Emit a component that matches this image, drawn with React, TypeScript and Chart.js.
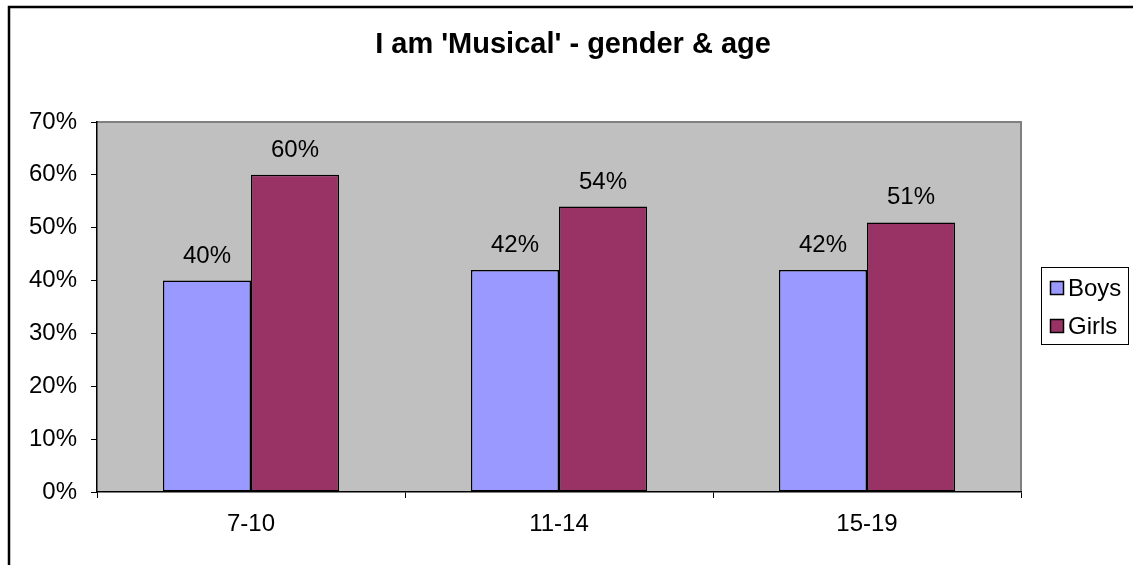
import React, { useEffect, useRef } from "react";
import { Chart, registerables } from "chart.js";

Chart.register(...registerables);

const categories = ["7-10", "11-14", "15-19"];
const boys = [40, 42, 42];
const girls = [60, 54, 51];
const seriesNames = ["Boys", "Girls"];
const titleText = "I am 'Musical' - gender & age";

const FONT = "'Liberation Sans', Arial, sans-serif";
const BOYS_COLOR = "#9999FF";
const GIRLS_COLOR = "#993366";
const TEXT_SIZE = 24;

const framePlugin = {
  id: "frame",
  beforeDraw(chart: any) {
    const { ctx, chartArea } = chart;
    ctx.save();
    ctx.fillStyle = "#ffffff";
    ctx.fillRect(0, 0, chart.width, chart.height);
    // outer border
    ctx.strokeStyle = "#000000";
    ctx.lineWidth = 2.5;
    ctx.strokeRect(9, 7, 1300, 700);
    // plot area background
    ctx.fillStyle = "#C0C0C0";
    ctx.fillRect(chartArea.left, chartArea.top, chartArea.right - chartArea.left, chartArea.bottom - chartArea.top);
    ctx.strokeStyle = "#808080";
    ctx.lineWidth = 2;
    ctx.beginPath();
    ctx.moveTo(chartArea.left, chartArea.top);
    ctx.lineTo(chartArea.right, chartArea.top);
    ctx.lineTo(chartArea.right, chartArea.bottom);
    ctx.stroke();
    ctx.restore();
  },
  afterDraw(chart: any) {
    const { ctx } = chart;
    ctx.save();
    // title
    ctx.fillStyle = "#000000";
    ctx.font = "bold 29px " + FONT;
    ctx.textAlign = "center";
    ctx.textBaseline = "alphabetic";
    ctx.fillText(titleText, 573, 53);
    // data labels
    ctx.font = TEXT_SIZE + "px " + FONT;
    chart.data.datasets.forEach((ds: any, i: number) => {
      const meta = chart.getDatasetMeta(i);
      meta.data.forEach((bar: any, j: number) => {
        ctx.fillText(ds.data[j] + "%", bar.x, bar.y - 18);
      });
    });
    // legend
    ctx.strokeStyle = "#000000";
    ctx.lineWidth = 1;
    ctx.fillStyle = "#ffffff";
    ctx.fillRect(1041, 267, 88, 78);
    ctx.strokeRect(1041.5, 267.5, 87, 77);
    const colors = [BOYS_COLOR, GIRLS_COLOR];
    const ys = [288, 326];
    ctx.textAlign = "left";
    ctx.font = TEXT_SIZE + "px " + FONT;
    seriesNames.forEach((name, k) => {
      ctx.fillStyle = colors[k];
      ctx.fillRect(1050.5, ys[k] - 6.5, 13, 13);
      ctx.strokeStyle = "#000000";
      ctx.lineWidth = 1.5;
      ctx.strokeRect(1050.5, ys[k] - 6.5, 13, 13);
      ctx.fillStyle = "#000000";
      ctx.fillText(name, 1068, ys[k] + 8);
    });
    ctx.restore();
  },
};

export default function App() {
  const ref = useRef<HTMLCanvasElement | null>(null);
  useEffect(() => {
    document.body.style.margin = "0";
    if (!ref.current) return;
    const chart = new Chart(ref.current, {
      type: "bar",
      data: {
        labels: categories,
        datasets: [
          {
            label: seriesNames[0],
            data: boys,
            backgroundColor: BOYS_COLOR,
            borderColor: "#000000",
            borderWidth: 1.5,
            borderSkipped: false,
          },
          {
            label: seriesNames[1],
            data: girls,
            backgroundColor: GIRLS_COLOR,
            borderColor: "#000000",
            borderWidth: 1.5,
            borderSkipped: false,
          },
        ],
      },
      options: {
        responsive: false,
        animation: false,
        devicePixelRatio: 1,
        layout: { padding: { left: 8, top: 122, right: 112, bottom: 0 } },
        plugins: {
          legend: { display: false },
          title: { display: false },
          tooltip: { enabled: false },
        },
        datasets: { bar: { categoryPercentage: 0.572, barPercentage: 1 } },
        scales: {
          x: {
            afterFit: (s: any) => { s.height = 73; },
            grid: {
              offset: true,
              drawOnChartArea: false,
              drawTicks: true,
              tickLength: 6,
              color: "#000000",
            },
            border: { color: "#000000", width: 1.5 },
            ticks: {
              color: "#000000",
              font: { family: FONT, size: TEXT_SIZE },
              padding: 12,
            },
          },
          y: {
            min: 0,
            max: 70,
            afterFit: (s: any) => { s.width = 89; },
            grid: {
              drawOnChartArea: false,
              drawTicks: true,
              tickLength: 6,
              color: "#000000",
            },
            border: { color: "#000000", width: 1.5 },
            ticks: {
              stepSize: 10,
              color: "#000000",
              font: { family: FONT, size: TEXT_SIZE },
              padding: 14,
              callback: (v: any) => v + "%",
            },
          },
        },
      },
      plugins: [framePlugin],
    });
    return () => chart.destroy();
  }, []);
  return (
    <div style={{ position: "fixed", left: 0, top: 0, width: 1133, height: 565 }}>
      <canvas ref={ref} width={1133} height={565} />
    </div>
  );
}
